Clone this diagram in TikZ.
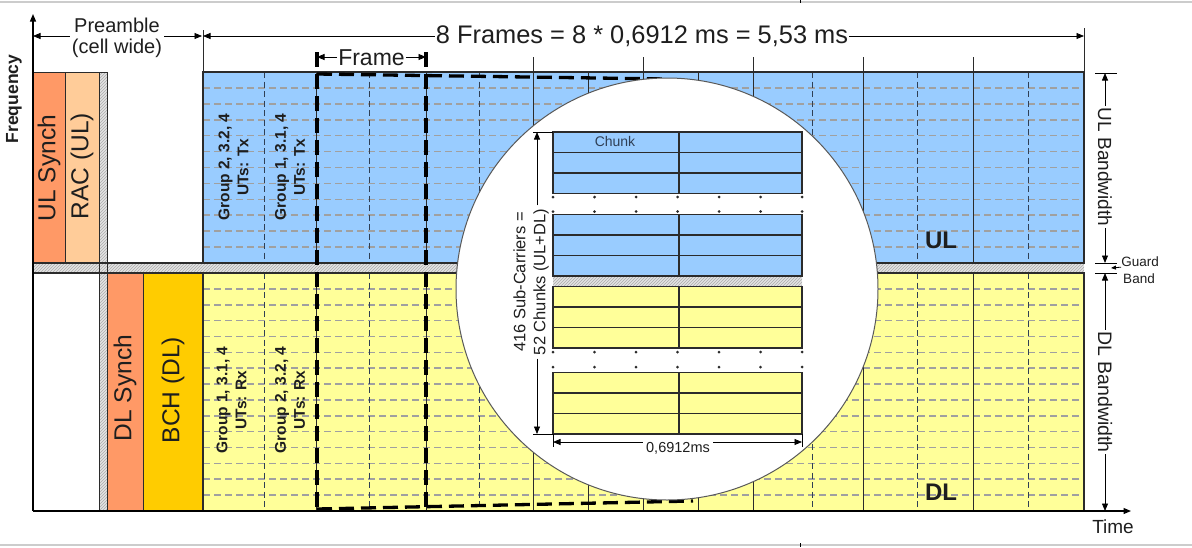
\documentclass[tikz,border=0pt]{standalone}
\usepackage{fontspec}
\setmainfont{Liberation Sans}
\usetikzlibrary{arrows.meta,patterns}
\definecolor{ulblue}{HTML}{99CCFF}
\definecolor{dlyellow}{HTML}{FFFF99}
\definecolor{synchor}{HTML}{FF9966}
\definecolor{racor}{HTML}{FFCC99}
\definecolor{bchgold}{HTML}{FFCC00}
\definecolor{gridgray}{HTML}{A0A0A0}
\definecolor{darkline}{HTML}{2B2B2B}
\definecolor{vdash}{HTML}{2F3F55}
\definecolor{txtdark}{HTML}{1E1E1E}
\newcommand{\fsz}[2]{\fontsize{#1}{#2}\selectfont}
\begin{document}
\begin{tikzpicture}[x=1pt,y=-1pt,
  >={Triangle[length=7.5pt,width=6pt]},
  guard/.style={preaction={fill=gray!22}, pattern=north east lines, pattern color=gray!65},
  gridline/.style={gridgray, line width=1.6pt, dash pattern=on 7pt off 4pt},
  halfline/.style={vdash, line width=1pt, dash pattern=on 6pt off 3.5pt},
  frameline/.style={darkline, line width=0.9pt},
  thickdash/.style={black, line width=3.3pt, dash pattern=on 15pt off 7pt},
  dimline/.style={black, line width=0.8pt},
  chunkrow/.style={draw=darkline, line width=1.1pt},
  boxline/.style={draw=darkline, line width=0.8pt},
  biglabel/.style={rotate=90, font=\fsz{24.5}{28}, text=txtdark},
  grouplabel/.style={rotate=90, align=center, font=\bfseries\fsz{15.5}{19}, text=txtdark}]
\useasboundingbox (0,0) rectangle (1192,547);
% screenshot frame lines
\draw[gray!40, line width=1.2pt] (0,2) -- (1192,2) (0,545) -- (1192,545);
\draw[black, line width=0.8pt] (800,0) -- (800,3) (800,543) -- (800,547);
% backgrounds
\fill[ulblue] (203,72) rectangle (1084,263);
\fill[dlyellow] (203,273) rectangle (1084,511);
% sub-carrier grid
\foreach \k in {1,...,11} \draw[gridline] (203,{72+\k*191/12}) -- (1084,{72+\k*191/12});
\foreach \k in {1,...,14} \draw[gridline] (203,{273+\k*238/15}) -- (1084,{273+\k*238/15});
% frame lines
\foreach \x in {316,426,533,588,643,698,753,863,973}
  \draw[frameline] (\x,72) -- (\x,263) (\x,273) -- (\x,511);
\foreach \x in {264,369,479,812,917,1028}
  \draw[halfline] (\x,72) -- (\x,263) (\x,273) -- (\x,511);
\foreach \x in {533,643,753,863,973} \draw[frameline] (\x,57) -- (\x,72);
\draw[frameline] (203,30) -- (203,72) (1084,28) -- (1084,72);
% preamble boxes
\filldraw[fill=synchor, boxline] (33,72) rectangle (65,263);
\filldraw[fill=racor, boxline] (65,72) rectangle (99,263);
\filldraw[fill=white, boxline] (33,273) rectangle (99,511);
\filldraw[fill=synchor, boxline] (107,273) rectangle (143,511);
\filldraw[fill=bchgold, boxline] (143,273) rectangle (203,511);
% guard bands
\path[guard] (33,263) rectangle (1084,273);
\path[guard] (99,72) rectangle (107,511);
\draw[boxline] (99,72) -- (107,72) (99,72) -- (99,511) (107,72) -- (107,511);
\draw[darkline, line width=1.2pt] (33,263) -- (1084,263) (33,273) -- (1084,273);
\draw[darkline, line width=1.2pt] (203,72) rectangle (1084,263);
\draw[darkline, line width=1.2pt] (203,273) rectangle (1084,511);
% highlighted frame and zoom lines
\draw[thickdash] (317,52) -- (317,511);
\draw[thickdash] (426,52) -- (426,511);
\draw[thickdash] (317,74) -- (667,79);
\draw[thickdash] (317,509) -- (693,501);
% magnifier
\filldraw[fill=white, draw=gray!70!black, line width=1pt] (667,289) circle[radius=211pt];
% chunk blocks inside magnifier
\path[guard] (553,276) rectangle (802,286.5);
\foreach \yt/\col in {132/ulblue, 214.5/ulblue, 286.5/dlyellow, 372.5/dlyellow} {
  \filldraw[fill=\col, chunkrow] (553,\yt) rectangle (802,{\yt+61.5});
  \draw[chunkrow] (553,{\yt+20.5}) -- (802,{\yt+20.5})
                  (553,{\yt+41}) -- (802,{\yt+41})
                  (679,\yt) -- (679,{\yt+61.5});
}
\foreach \yy in {197,211.5,352,367}
  \foreach \k in {0,...,6} \fill[darkline] ({553+\k*41.5},\yy) circle (1.5pt);
\node[font=\fsz{14}{16}, text=vdash] (chunk) at (615,141) {Chunk};
% sub-carrier dimension
\node[rotate=90, align=center, font=\fsz{16.5}{20}, text=txtdark] (subc) at (531,282)
  {416 Sub-Carriers =\\52 Chunks (UL+DL)};
\coordinate (sctop) at (537,132);
\coordinate (scbot) at (537,434);
\draw[dimline] (533,132) -- (553,132) (533,434) -- (553,434);
\draw[dimline,->] (subc.east -| sctop) -- (sctop);
\draw[dimline,->] (subc.west -| scbot) -- (scbot);
% 0,6912 ms dimension
\node[font=\fsz{14.5}{16}, text=txtdark] (tchunk) at (678,448) {0,6912ms};
\coordinate (tl) at (553,442);
\coordinate (tr) at (802,442);
\draw[dimline] (553,434) -- (553,447) (802,434) -- (802,447);
\draw[dimline,->] (tchunk.west |- tl) -- (tl);
\draw[dimline,->] (tchunk.east |- tr) -- (tr);
% region labels
\node[font=\bfseries\fsz{24}{28}, text=txtdark] (ul) at (941,240) {UL};
\node[font=\bfseries\fsz{24}{28}, text=txtdark] (dl) at (941,492) {DL};
\node[biglabel] (ulsynch) at (49,168) {UL Synch};
\node[biglabel] (rac) at (82,166) {RAC (UL)};
\node[biglabel] (dlsynch) at (125,388) {DL Synch};
\node[biglabel] (bch) at (173,390) {BCH (DL)};
\node[grouplabel] (g1) at (233.5,167) {Group 2, 3.2, 4\\UTs: Tx};
\node[grouplabel] (g2) at (290,167) {Group 1, 3.1, 4\\UTs: Tx};
\node[grouplabel] (g3) at (231.5,400) {Group 1, 3.1, 4\\UTs: Rx};
\node[grouplabel] (g4) at (290,400) {Group 2, 3.2, 4\\UTs: Rx};
% axes
\coordinate (origin) at (33,511);
\coordinate (ftop) at (33,14);
\coordinate (tend) at (1131,511);
\draw[black, line width=1.2pt, ->] (origin) -- (ftop);
\draw[black, line width=1.2pt, ->] (origin) -- (tend);
\node[rotate=90, font=\bfseries\fsz{17.5}{20}, text=txtdark] (freq) at (14,99) {Frequency};
\node[anchor=base, font=\fsz{19}{22}, text=txtdark] (time) at (1113,533) {Time};
% top dimensions
\node[anchor=base, font=\fsz{20}{21}, text=txtdark, inner sep=2pt] (pre) at (117,32) {Preamble};
\node[anchor=base, font=\fsz{20}{21}, text=txtdark, inner sep=2pt] (precell) at (117,53) {(cell wide)};
\coordinate (pl) at (33,36);
\coordinate (pr) at (202,36);
\draw[dimline,->] (precell.west |- pl) -- (pl);
\draw[dimline,->] (precell.east |- pr) -- (pr);
\node[anchor=base, font=\fsz{25.4}{30}, text=txtdark, inner sep=1pt] (frames) at (642,43) {8 Frames = 8 * 0,6912 ms = 5,53 ms};
\coordinate (fl) at (203,36);
\coordinate (fr) at (1084,36);
\draw[dimline,->] (frames.west |- fl) -- (fl);
\draw[dimline,->] (frames.east |- fr) -- (fr);
\node[font=\fsz{23}{26}, text=txtdark, inner sep=1pt] (frame) at (371.5,57.5) {Frame};
\coordinate (frl) at (317,57);
\coordinate (frr) at (426,57);
\draw[dimline,->] (frame.west |- frl) -- (frl);
\draw[dimline,->] (frame.east |- frr) -- (frr);
% right dimensions
\draw[dimline] (1095,73) -- (1117,73) (1095,263) -- (1117,263) (1095,273) -- (1117,273);
\node[rotate=-90, font=\fsz{19}{22}, text=txtdark, inner sep=1.5pt] (ulbw) at (1105,167) {UL Bandwidth};
\node[rotate=-90, font=\fsz{19.5}{22}, text=txtdark, inner sep=1.5pt] (dlbw) at (1105,392) {DL Bandwidth};
\coordinate (ult) at (1105,73);
\coordinate (ulb) at (1105,263);
\coordinate (dlt) at (1105,273);
\coordinate (dlb) at (1105,511);
\draw[dimline,->] (ulbw) -- (ult);
\draw[dimline,->] (ulbw) -- (ulb);
\draw[dimline,->] (dlbw) -- (dlt);
\draw[dimline,->] (dlbw) -- (dlb);
\node[font=\fsz{13.5}{15}, text=txtdark, inner sep=0pt] (guardt) at (1140,262) {Guard};
\node[font=\fsz{13.5}{15}, text=txtdark, inner sep=0pt] (bandt) at (1139,279) {Band};
\coordinate (gtip) at (1111,268);
\draw[dimline,->,>={Triangle[length=5pt,width=4pt]}] (guardt.south west) -- (gtip);
\end{tikzpicture}
\end{document}
